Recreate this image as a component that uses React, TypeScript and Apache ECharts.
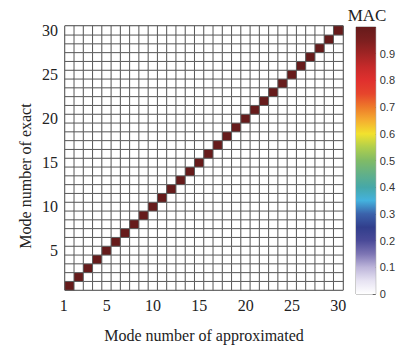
import React, { useEffect, useRef } from "react";
import * as echarts from "echarts";

// Mode numbers (1..30)
const modes: string[] = [
  "1","2","3","4","5","6","7","8","9","10",
  "11","12","13","14","15","16","17","18","19","20",
  "21","22","23","24","25","26","27","28","29","30",
];
// MAC on the diagonal (exact mode i vs approximated mode i)
const diagonalMAC: number[] = [
  1,1,1,1,1,1,1,1,1,1,
  1,1,1,1,1,1,1,1,1,1,
  1,1,1,1,1,1,1,1,1,1,
];
// MAC off the diagonal
const offDiagonalMAC = 0;
const xTickLabels: string[] = ["1", "5", "10", "15", "20", "25", "30"];
const yTickLabels: string[] = ["5", "10", "15", "20", "25", "30"];
const colorbarTicks: number[] = [0, 0.1, 0.2, 0.3, 0.4, 0.5, 0.6, 0.7, 0.8, 0.9];

const colormap: string[] = [
  "#ffffff", "#e6e2f2", "#bdb5da", "#7d75b4", "#4a4a98", "#313e8c",
  "#3b62ab", "#44b2de", "#46a8a8", "#62b088", "#80bb66", "#b0cf4c",
  "#f2e22e", "#f5ae30", "#ee7a2a", "#e6452c", "#e0302e", "#c62a2a",
  "#a02424", "#7c1f1f", "#661b1b",
];

const serif = "'Liberation Serif', 'Times New Roman', serif";
const sans = "'Liberation Sans', Arial, sans-serif";

export default function App() {
  const ref = useRef<HTMLDivElement>(null);
  useEffect(() => {
    document.body.style.margin = "0";
    if (!ref.current) return;
    const chart = echarts.init(ref.current, null, { renderer: "svg" });

    const data: [number, number, number][] = [];
    for (let i = 0; i < modes.length; i++) {
      for (let j = 0; j < modes.length; j++) {
        data.push([i, j, i === j ? diagonalMAC[i] : offDiagonalMAC]);
      }
    }

    const stops = colormap.map((c, k) => ({ offset: k / (colormap.length - 1), color: c }));

    chart.setOption({
      animation: false,
      backgroundColor: "#ffffff",
      grid: [
        { left: 65, right: 55, top: 26, bottom: 55, show: true, borderColor: "#222", borderWidth: 1, containLabel: false },
        { left: 356, width: 23, top: 27, height: 267, show: true, borderColor: "#999", borderWidth: 1, containLabel: false },
      ],
      xAxis: [
        {
          type: "category",
          gridIndex: 0,
          data: modes,
          name: "Mode number of approximated",
          nameLocation: "middle",
          nameGap: 37,
          nameTextStyle: { fontFamily: serif, fontSize: 16, color: "#222" },
          axisLine: { show: false },
          axisTick: { show: false },
          splitLine: { show: false },
          axisLabel: {
            interval: (_idx: number, v: string) => xTickLabels.includes(v),
            fontFamily: serif,
            fontSize: 16,
            color: "#222",
            margin: 7,
            formatter: (v: string) => (v === "1" ? "{l|1}" : v),
            rich: { l: { fontFamily: serif, fontSize: 16, color: "#222", padding: [0, 12, 0, 0] } },
          },
        },
        {
          type: "category",
          gridIndex: 1,
          data: ["MAC"],
          show: false,
        },
      ],
      yAxis: [
        {
          type: "category",
          gridIndex: 0,
          data: modes,
          axisLine: { show: false },
          axisTick: { show: false },
          splitLine: { show: false },
          axisLabel: {
            interval: (_idx: number, v: string) => yTickLabels.includes(v),
            fontFamily: serif,
            fontSize: 16,
            color: "#222",
            margin: 7,
          },
        },
        {
          type: "value",
          gridIndex: 1,
          min: 0,
          max: 1,
          interval: 0.1,
          position: "right",
          axisLine: { show: false },
          splitLine: { show: false },
          axisTick: { show: true, inside: true, length: 3, lineStyle: { color: "#666" } },
          axisLabel: {
            fontFamily: sans,
            fontSize: 11,
            color: "#333",
            margin: 4,
            formatter: (v: number) => {
              const r = Math.round(v * 10) / 10;
              return colorbarTicks.some((t) => Math.abs(t - r) < 1e-9) ? String(r) : "";
            },
          },
        },
      ],
      visualMap: {
        type: "continuous",
        show: false,
        min: 0,
        max: 1,
        seriesIndex: 0,
        inRange: { color: colormap },
      },
      graphic: [
        {
          type: "text",
          x: 367,
          y: 15,
          style: {
            text: "MAC",
            font: `17px ${serif}`,
            fill: "#222",
            textAlign: "center",
            textVerticalAlign: "middle",
          },
        },
        {
          type: "text",
          x: 25,
          y: 176,
          rotation: Math.PI / 2,
          style: {
            text: "Mode number of exact",
            font: `16px ${serif}`,
            fill: "#222",
            textAlign: "center",
            textVerticalAlign: "middle",
          },
        },
      ],
      series: [
        {
          type: "heatmap",
          xAxisIndex: 0,
          yAxisIndex: 0,
          data,
          itemStyle: { borderColor: "#5a5a5a", borderWidth: 1 },
          emphasis: { disabled: true },
        },
        {
          type: "bar",
          xAxisIndex: 1,
          yAxisIndex: 1,
          data: [1],
          barWidth: "100%",
          silent: true,
          itemStyle: {
            color: new echarts.graphic.LinearGradient(0, 1, 0, 0, stops),
          },
        },
      ],
    });
    return () => chart.dispose();
  }, []);
  return <div ref={ref} style={{ width: 398, height: 348 }} />;
}
